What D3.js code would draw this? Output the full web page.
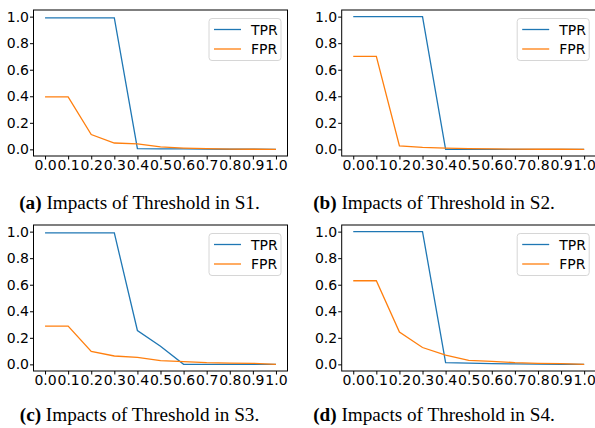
<!DOCTYPE html>
<html>
<head>
<meta charset="utf-8">
<script src="https://cdn.jsdelivr.net/npm/d3@7"></script>
<style>
  body { margin: 0; background: #fff; }
  svg { display: block; }
</style>
</head>
<body>
<svg width="595" height="428"></svg>
<script>
var thresholds = [0.0, 0.1, 0.2, 0.3, 0.4, 0.5, 0.6, 0.7, 0.8, 0.9, 1.0];

var tprS1 = [0.99, 0.99, 0.99, 0.99, 0.005, 0.004, 0.003, 0.002, 0.001, 0.001, 0.0];
var fprS1 = [0.395, 0.395, 0.112, 0.048, 0.041, 0.018, 0.01, 0.005, 0.002, 0.001, 0.0];

var tprS2 = [1.0, 1.0, 1.0, 1.0, 0.0, 0.0, 0.0, 0.0, 0.0, 0.0, 0.0];
var fprS2 = [0.70, 0.70, 0.026, 0.015, 0.01, 0.005, 0.003, 0.002, 0.001, 0.001, 0.0];

var tprS3 = [0.99, 0.99, 0.99, 0.99, 0.255, 0.136, 0.0, 0.0, 0.0, 0.0, 0.0];
var fprS3 = [0.288, 0.288, 0.098, 0.063, 0.053, 0.028, 0.02, 0.013, 0.01, 0.008, 0.0];

var tprS4 = [1.0, 1.0, 1.0, 1.0, 0.013, 0.01, 0.005, 0.003, 0.002, 0.001, 0.0];
var fprS4 = [0.63, 0.63, 0.244, 0.127, 0.069, 0.03, 0.023, 0.013, 0.008, 0.005, 0.0];

var yTicks = [0.0, 0.2, 0.4, 0.6, 0.8, 1.0];
var seriesNames = ["TPR", "FPR"];
var captionTags = ["(a)", "(b)", "(c)", "(d)"];
var captionTexts = [" Impacts of Threshold in S1.", " Impacts of Threshold in S2.",
                    " Impacts of Threshold in S3.", " Impacts of Threshold in S4."];

var colors = ["#1f77b4", "#ff7f0e"];

var panels = [
  {x: 33.5, y: 10, tpr: tprS1, fpr: fprS1},
  {x: 341.7, y: 10, tpr: tprS2, fpr: fprS2},
  {x: 33.5, y: 225, tpr: tprS3, fpr: fprS3},
  {x: 341.7, y: 225, tpr: tprS4, fpr: fprS4}
];
var pw = 254, ph = 146;

var svg = d3.select("svg");

var x = d3.scaleLinear().domain([-0.05, 1.05]).range([0, pw]);
var y = d3.scaleLinear().domain([-0.05, 1.05]).range([ph, 0]);

var line = d3.line()
  .x(function(d, i) { return x(thresholds[i]); })
  .y(function(d) { return y(d); });

panels.forEach(function(p, k) {
  var g = svg.append("g").attr("transform", "translate(" + p.x + "," + p.y + ")");

  [p.tpr, p.fpr].forEach(function(vals, s) {
    g.append("path")
      .datum(vals)
      .attr("fill", "none")
      .attr("stroke", colors[s])
      .attr("stroke-width", 1.3)
      .attr("d", line);
  });

  var xa = g.append("g")
    .attr("transform", "translate(0," + ph + ")")
    .call(d3.axisBottom(x).tickValues(thresholds).tickFormat(d3.format(".1f")).tickSize(3.5).tickPadding(1).tickSizeOuter(0));
  var ya = g.append("g")
    .call(d3.axisLeft(y).tickValues(yTicks).tickFormat(d3.format(".1f")).tickSize(3.5).tickPadding(1).tickSizeOuter(0));
  [xa, ya].forEach(function(a) {
    a.select(".domain").remove();
    a.selectAll("text").attr("font-family", "DejaVu Sans").attr("font-size", 14).attr("fill", "#000");
    a.selectAll("line").attr("stroke", "#000");
  });

  g.append("rect")
    .attr("width", pw).attr("height", ph)
    .attr("fill", "none").attr("stroke", "#000").attr("stroke-width", 1);

  // legend
  var lg = g.append("g").attr("transform", "translate(" + (pw - 78.5) + ",8.5)");
  lg.append("rect")
    .attr("width", 72).attr("height", 42).attr("rx", 3)
    .attr("fill", "#fff").attr("fill-opacity", 0.8)
    .attr("stroke", "#d6d6d6").attr("stroke-width", 1);
  seriesNames.forEach(function(n, s) {
    var ly = 11 + s * 19.5;
    lg.append("line")
      .attr("x1", 5).attr("x2", 32).attr("y1", ly).attr("y2", ly)
      .attr("stroke", colors[s]).attr("stroke-width", 1.3);
    lg.append("text")
      .attr("x", 42).attr("y", ly).attr("dy", "0.36em")
      .attr("font-family", "DejaVu Sans").attr("font-size", 14)
      .text(n);
  });

  var cap = svg.append("text")
    .attr("x", (k % 2 === 0 ? 139.5 : 434))
    .attr("y", (k < 2 ? 208.5 : 421))
    .attr("text-anchor", "middle")
    .attr("font-family", "Liberation Serif")
    .attr("font-size", 19.2);
  cap.append("tspan").attr("font-weight", "bold").text(captionTags[k]);
  cap.append("tspan").text(captionTexts[k]);
});
</script>
</body>
</html>
